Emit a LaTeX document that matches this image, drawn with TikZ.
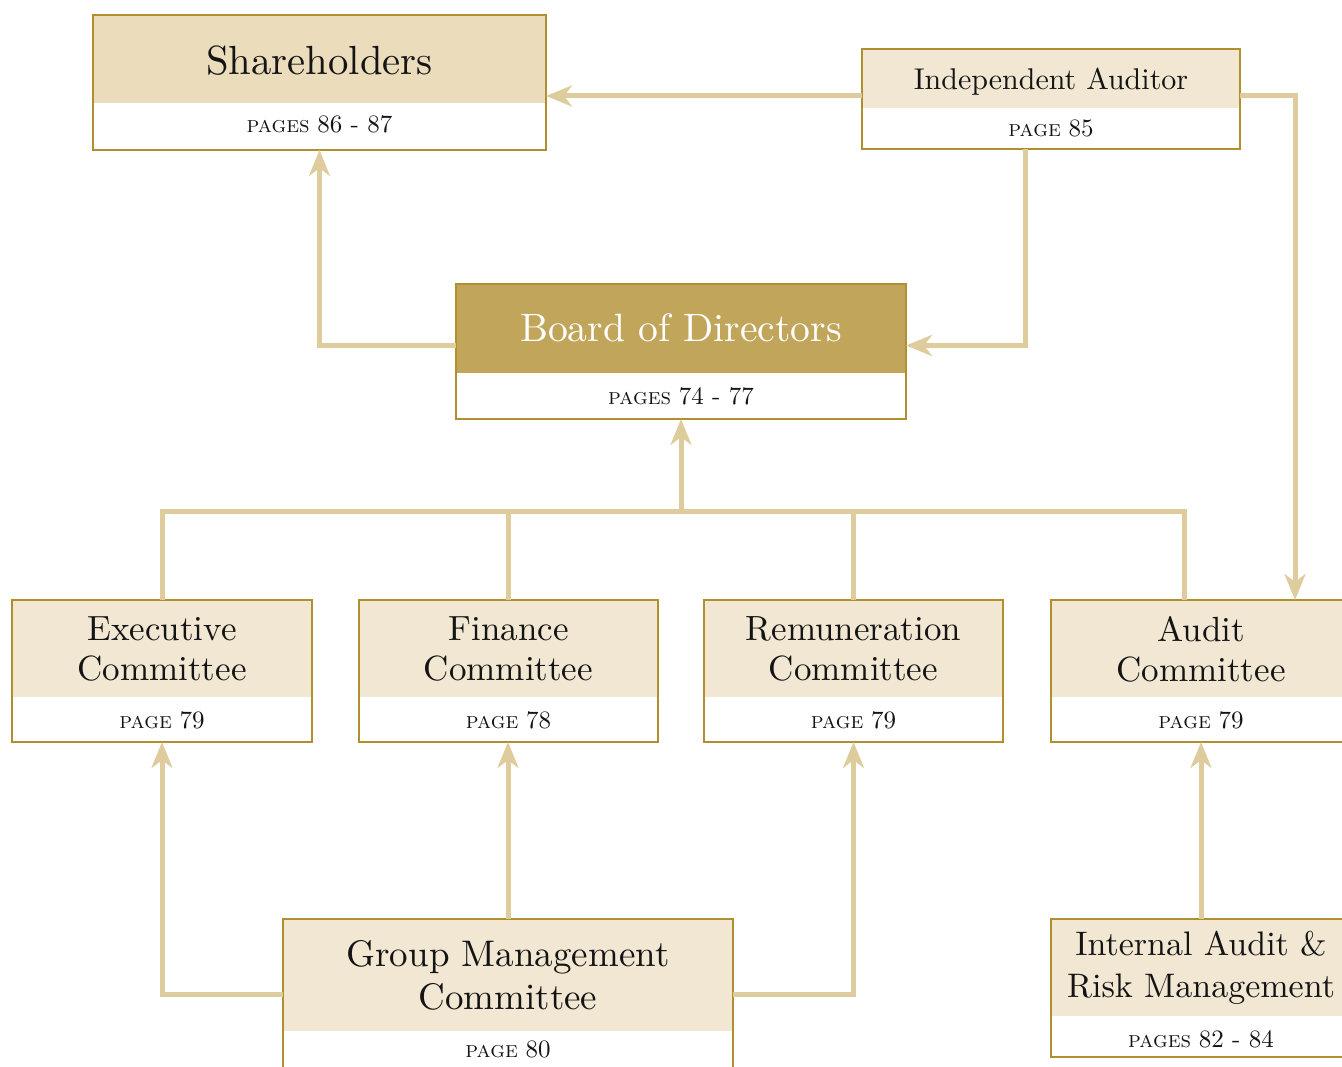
\documentclass[tikz,border=0pt]{standalone}
\usepackage{fontspec}
% the 10pt optical design of Latin Modern, scaled to every size
\setmainfont{lmroman10-regular}[Extension=.otf, SmallCapsFont=lmromancaps10-regular]
\usetikzlibrary{arrows.meta,calc}

\definecolor{frameline}{HTML}{B0902E}
\definecolor{linkcol}{HTML}{DFCC9C}
\definecolor{sandfill}{HTML}{EBDCBB}
\definecolor{creamfill}{HTML}{F1E7D3}
\definecolor{goldfill}{HTML}{C1A55B}
\definecolor{inkcol}{HTML}{141414}

% page reference: small-caps word followed by larger numbers
\newcommand\pgref[2]{\textsc{#1} {\fontsize{25}{28}\selectfont #2}}

\tikzset{
  frame/.style={draw=frameline, line width=1.3pt, inner sep=0pt, outer sep=0pt},
  link/.style={draw=linkcol, line width=5pt},
  arr/.style={link, -{Stealth[length=26pt,width=21pt,inset=8pt]}},
  ttl/.style={text=inkcol, inner sep=0pt, align=center},
  pg/.style={text=inkcol, inner sep=0pt, font=\fontsize{23}{28}\selectfont},
  comttl/.style={ttl, font=\fontsize{35}{40}\selectfont},
}

\begin{document}
\begin{tikzpicture}[x=1pt,y=-1pt]
\useasboundingbox (0,0) rectangle (1342,1067);
\clip (0,0) rectangle (1342,1067);

% ---- header bands of the boxes ----
\fill[sandfill]  (93,15)    rectangle (546,103);
\fill[creamfill] (862,49)   rectangle (1240,108);
\fill[goldfill]  (456,284)  rectangle (906,373);
\fill[creamfill] (12,600)   rectangle (312,697);
\fill[creamfill] (359,600)  rectangle (658,697);
\fill[creamfill] (704,600)  rectangle (1003,697);
\fill[creamfill] (1051,600) rectangle (1351,697);
\fill[creamfill] (283,919)  rectangle (733,1031);
\fill[creamfill] (1051,919) rectangle (1351,1016);

% ---- box frames ----
\node[frame, minimum width=453pt, minimum height=135pt] (sh)    at (319.5,82.5) {};
\node[frame, minimum width=378pt, minimum height=100pt] (aud)   at (1051,99)    {};
\node[frame, minimum width=450pt, minimum height=135pt] (board) at (681,351.5)  {};
\node[frame, minimum width=300pt, minimum height=142pt] (ex)    at (162,671)    {};
\node[frame, minimum width=299pt, minimum height=142pt] (fin)   at (508.5,671)  {};
\node[frame, minimum width=299pt, minimum height=142pt] (rem)   at (853.5,671)  {};
\node[frame, minimum width=300pt, minimum height=142pt] (audc)  at (1201,671)   {};
\node[frame, minimum width=450pt, minimum height=157pt] (gm)    at (508,997.5)  {};
\node[frame, minimum width=300pt, minimum height=138pt] (ia)    at (1201,988)   {};

% ---- titles and page references ----
\node[ttl, anchor=base, font=\fontsize{40.7}{48}\selectfont] (shT) at (319.5,75) {Shareholders};
\node[pg, anchor=base] (shP) at (319.5,133) {\pgref{pages}{86 - 87}};

\node[ttl, anchor=base, font=\fontsize{30}{36}\selectfont] (audT) at (1051,90) {Independent Auditor};
\node[pg, anchor=base] (audP) at (1051,137) {\pgref{page}{85}};

\node[ttl, text=white, anchor=base, font=\fontsize{39.6}{48}\selectfont] (boardT) at (681,342) {Board of Directors};
\node[pg, anchor=base] (boardP) at (681,404) {\pgref{pages}{74 - 77}};

\node[comttl] (exT)   at (162,649)   {Executive\\Committee};
\node[pg, anchor=base] (exP) at (162,728) {\pgref{page}{79}};
\node[comttl] (finT)  at (508.5,649) {Finance\\Committee};
\node[pg, anchor=base] (finP) at (508.5,728) {\pgref{page}{78}};
\node[comttl] (remT)  at (853.5,649) {Remuneration\\Committee};
\node[pg, anchor=base] (remP) at (853.5,728) {\pgref{page}{79}};
\node[comttl] (audcT) at (1201,649)  {Audit\\Committee};
\node[pg, anchor=base] (audcP) at (1201,728) {\pgref{page}{79}};

\node[ttl, font=\fontsize{37}{43}\selectfont] (gmT) at (508,975.5) {Group Management\\Committee};
\node[pg, anchor=base] (gmP) at (508,1057) {\pgref{page}{80}};

\node[ttl, font=\fontsize{34}{42}\selectfont] (iaT) at (1201,967.5) {Internal Audit \&\\Risk Management};
\node[pg, anchor=base] (iaP) at (1201,1047) {\pgref{pages}{82 - 84}};

% ---- connectors ----
\coordinate (bus) at (681,511);
\coordinate (auj) at ([xshift=-17pt]audc.north);
\coordinate (audin) at ([xshift=94pt]audc.north);

\draw[arr] ([yshift=3pt]aud.west) -- ([yshift=3pt]aud.west -| sh.east);
\draw[arr] ([yshift=3pt]aud.east) -| (audin);
\draw[arr] ([xshift=-26pt]aud.south) |- ([yshift=6pt]board.east);
\draw[arr] ([yshift=6pt]board.west) -| (sh.south);

\draw[link] (ex.north) -- (ex.north |- bus) -- (auj |- bus) -- (auj);
\draw[link] (fin.north) -- (fin.north |- bus);
\draw[link] (rem.north) -- (rem.north |- bus);
\draw[arr] (bus) -- (board.south);

\draw[arr] ([yshift=3.5pt]gm.west) -| (ex.south);
\draw[arr] (gm.north) -- (gm.north |- fin.south);
\draw[arr] ([yshift=3.5pt]gm.east) -| (rem.south);
\draw[arr] (ia.north) -- (audc.south);
\end{tikzpicture}
\end{document}
